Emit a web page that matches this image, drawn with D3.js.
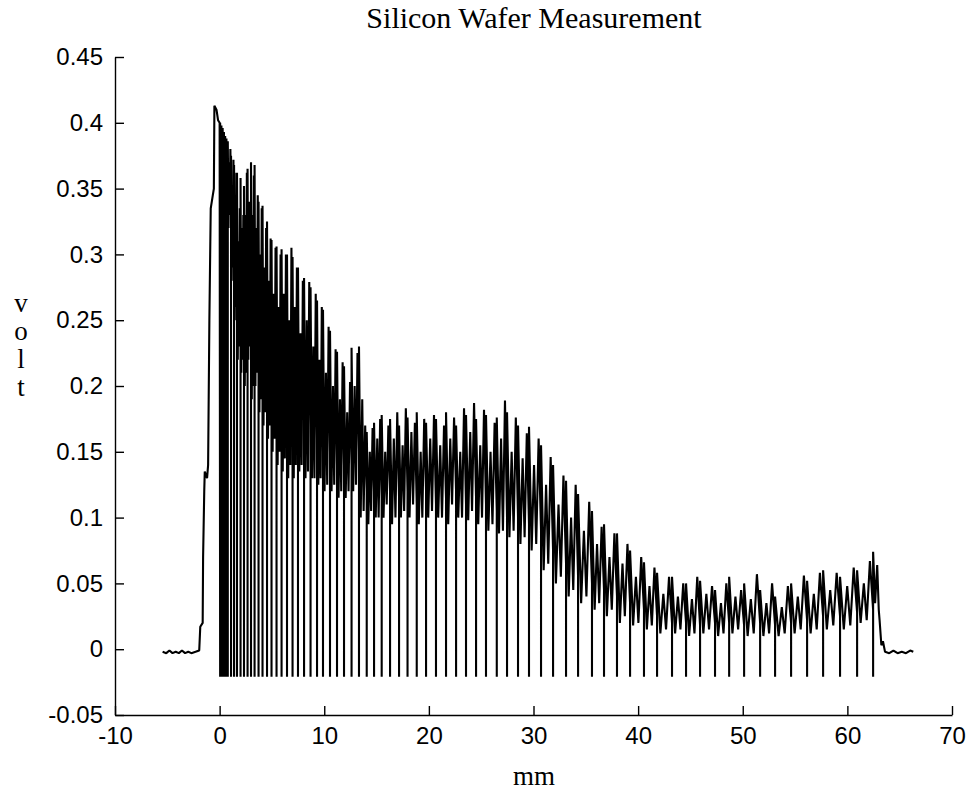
<!DOCTYPE html>
<html>
<head>
<meta charset="utf-8">
<script src="https://cdn.jsdelivr.net/npm/d3@7"></script>
<style>
  html, body { margin: 0; padding: 0; background: #fff; }
  svg { display: block; }
  .tick text { font-family: "Liberation Sans", Arial, sans-serif; font-size: 24px; fill: #000; }
  .serif { font-family: "Liberation Serif", "Times New Roman", serif; fill: #000; }
</style>
</head>
<body>
<svg id="chart" width="968" height="800"></svg>
<script>
// Axis ticks
const xTickValues = [-10, 0, 10, 20, 30, 40, 50, 60, 70];
const yTickValues = [-0.05, 0, 0.05, 0.1, 0.15, 0.2, 0.25, 0.3, 0.35, 0.4, 0.45];

// Scan before the wafer edge: baseline then the rising edge [mm, volt]
const leadIn = [
  [-5.45, -0.002], [-5.1, -0.003], [-4.8, -0.001], [-4.5, -0.003], [-4.2, -0.002],
  [-3.9, -0.003], [-3.6, -0.001], [-3.3, -0.003], [-3.0, -0.002], [-2.7, -0.003],
  [-2.3, -0.002], [-1.95, -0.001], [-1.85, 0.017], [-1.62, 0.02], [-1.58, 0.07],
  [-1.47, 0.12], [-1.42, 0.135], [-1.2, 0.13], [-1.1, 0.14], [-0.98, 0.25],
  [-0.85, 0.335], [-0.65, 0.345], [-0.55, 0.35], [-0.5, 0.413], [-0.3, 0.41],
  [-0.15, 0.402], [0.0, 0.40]
];

// Positions (mm) where the signal drops to the negative spike
const dipPositions = [
  0.05, 0.17, 0.29, 0.41, 0.53, 0.65, 0.78, 1.09, 1.38, 1.66,
  2.00, 2.33, 2.67, 3.00, 3.34, 3.72, 4.10, 4.53, 4.96, 5.44,
  5.92, 6.44, 6.97, 7.49, 8.07, 8.69, 9.31, 9.88, 10.55, 11.22,
  11.89, 12.61, 13.32, 14.06, 14.76, 15.49, 16.29, 17.15, 17.96, 18.84,
  19.73, 20.68, 21.64, 22.60, 23.55, 24.51, 25.46, 26.49, 27.47, 28.52,
  29.57, 30.72, 31.87, 33.11, 34.26, 35.59, 36.74, 37.98, 39.23, 40.56,
  41.81, 43.24, 44.58, 45.92, 47.35, 48.70, 50.13, 51.66, 53.09, 54.62,
  56.15, 57.68, 59.30, 60.93, 62.46
];
const dipLevel = -0.021;

// Signal between consecutive spikes, in order across each interval:
// rise peak, floor, middle peak, second floor, late peak, level before next spike
const segPeakA = [
  0.400, 0.398, 0.396, 0.393, 0.390, 0.388, 0.386, 0.375, 0.368, 0.362,
  0.358, 0.352, 0.365, 0.370, 0.368, 0.340, 0.337, 0.325, 0.311, 0.306,
  0.304, 0.300, 0.298, 0.290, 0.282, 0.275, 0.265, 0.258, 0.242, 0.226,
  0.215, 0.229, 0.230, 0.165, 0.172, 0.178, 0.175, 0.170, 0.176, 0.180,
  0.172, 0.175, 0.180, 0.170, 0.178, 0.175, 0.178, 0.176, 0.180, 0.170,
  0.169, 0.155, 0.140, 0.128, 0.118, 0.105, 0.095, 0.088, 0.075, 0.066,
  0.058, 0.055, 0.050, 0.052, 0.045, 0.055, 0.050, 0.045, 0.040, 0.050,
  0.052, 0.060, 0.055, 0.060
];
const segFloor = [
  0.385, 0.380, 0.375, 0.370, 0.360, 0.350, 0.320, 0.280, 0.250, 0.220,
  0.210, 0.200, 0.220, 0.190, 0.200, 0.180, 0.170, 0.160, 0.150, 0.140,
  0.135, 0.130, 0.130, 0.135, 0.130, 0.130, 0.125, 0.120, 0.120, 0.115,
  0.115, 0.120, 0.100, 0.095, 0.100, 0.100, 0.095, 0.100, 0.100, 0.095,
  0.100, 0.100, 0.095, 0.100, 0.098, 0.095, 0.090, 0.088, 0.085, 0.080,
  0.075, 0.060, 0.050, 0.040, 0.035, 0.030, 0.025, 0.020, 0.018, 0.015,
  0.012, 0.012, 0.010, 0.012, 0.010, 0.012, 0.010, 0.010, 0.010, 0.012,
  0.012, 0.015, 0.015, 0.020
];
const segMid = [
  0.390, 0.390, 0.385, 0.383, 0.380, 0.378, 0.370, 0.340, 0.330, 0.310,
  0.320, 0.330, 0.340, 0.330, 0.320, 0.300, 0.290, 0.280, 0.270, 0.260,
  0.270, 0.250, 0.260, 0.240, 0.250, 0.230, 0.220, 0.210, 0.200, 0.190,
  0.180, 0.200, 0.190, 0.150, 0.160, 0.150, 0.160, 0.155, 0.165, 0.150,
  0.160, 0.155, 0.160, 0.150, 0.165, 0.155, 0.150, 0.160, 0.150, 0.145,
  0.140, 0.125, 0.110, 0.100, 0.090, 0.080, 0.070, 0.065, 0.055, 0.048,
  0.042, 0.040, 0.038, 0.042, 0.035, 0.040, 0.038, 0.035, 0.032, 0.040,
  0.042, 0.045, 0.048, 0.050
];
const segFloor2 = [
  0.380, 0.375, 0.370, 0.365, 0.355, 0.345, 0.330, 0.290, 0.260, 0.230,
  0.220, 0.210, 0.230, 0.200, 0.210, 0.190, 0.180, 0.170, 0.160, 0.150,
  0.145, 0.140, 0.140, 0.140, 0.135, 0.130, 0.130, 0.125, 0.125, 0.120,
  0.120, 0.125, 0.105, 0.105, 0.100, 0.110, 0.100, 0.105, 0.110, 0.100,
  0.105, 0.100, 0.110, 0.100, 0.105, 0.100, 0.095, 0.090, 0.090, 0.085,
  0.080, 0.065, 0.055, 0.045, 0.040, 0.035, 0.030, 0.025, 0.020, 0.018,
  0.015, 0.015, 0.012, 0.015, 0.012, 0.015, 0.012, 0.012, 0.012, 0.015,
  0.015, 0.018, 0.018, 0.022
];
const segPeakB = [
  0.398, 0.395, 0.392, 0.390, 0.388, 0.386, 0.380, 0.372, 0.362, 0.335,
  0.330, 0.362, 0.335, 0.360, 0.345, 0.335, 0.320, 0.312, 0.305, 0.300,
  0.300, 0.305, 0.290, 0.280, 0.279, 0.270, 0.260, 0.245, 0.228, 0.218,
  0.203, 0.225, 0.170, 0.168, 0.175, 0.170, 0.180, 0.183, 0.172, 0.175,
  0.178, 0.170, 0.176, 0.183, 0.187, 0.182, 0.172, 0.189, 0.176, 0.164,
  0.160, 0.146, 0.132, 0.125, 0.112, 0.093, 0.088, 0.080, 0.070, 0.062,
  0.055, 0.050, 0.055, 0.048, 0.050, 0.045, 0.057, 0.050, 0.048, 0.056,
  0.058, 0.058, 0.062, 0.067
];
const segTail = [
  0.390, 0.385, 0.380, 0.375, 0.370, 0.360, 0.340, 0.300, 0.280, 0.270,
  0.300, 0.290, 0.270, 0.280, 0.260, 0.250, 0.220, 0.210, 0.190, 0.200,
  0.180, 0.190, 0.170, 0.180, 0.170, 0.160, 0.150, 0.150, 0.140, 0.140,
  0.140, 0.150, 0.120, 0.120, 0.115, 0.120, 0.115, 0.120, 0.110, 0.120,
  0.110, 0.115, 0.120, 0.110, 0.115, 0.110, 0.105, 0.100, 0.100, 0.095,
  0.090, 0.075, 0.065, 0.055, 0.050, 0.045, 0.040, 0.035, 0.030, 0.025,
  0.020, 0.020, 0.018, 0.020, 0.020, 0.018, 0.020, 0.018, 0.020, 0.022,
  0.025, 0.025, 0.028, 0.030
];

// After the last spike: falling edge and baseline [mm, volt]
const leadOut = [
  [62.46, 0.074], [62.65, 0.035], [62.85, 0.064], [63.0, 0.03], [63.08, 0.022],
  [63.25, 0.003], [63.4, 0.006], [63.6, -0.002], [64.0, -0.003], [64.4, -0.001],
  [64.8, -0.003], [65.2, -0.002], [65.6, -0.003], [66.0, -0.001], [66.3, -0.002]
];

const svg = d3.select("#chart");
const x = d3.scaleLinear().domain([-10, 70]).range([115, 952]);
const y = d3.scaleLinear().domain([-0.05, 0.45]).range([715, 57]);

// Assemble the trace: each interval starts with a vertical rise out of the spike
const segmentSeries = [segPeakA, segFloor, segMid, segFloor2, segPeakB, segTail];
const stops = [0, 0.22, 0.42, 0.6, 0.8, 1];
const trace = leadIn.slice();
for (let i = 0; i < dipPositions.length - 1; i++) {
  const x0 = dipPositions[i], x1 = dipPositions[i + 1], w = x1 - x0;
  trace.push([x0, dipLevel]);
  segmentSeries.forEach((arr, k) => trace.push([x0 + stops[k] * w, arr[i]]));
}
trace.push([dipPositions[dipPositions.length - 1], dipLevel]);
leadOut.forEach(p => trace.push(p));

const line = d3.line().x(d => x(d[0])).y(d => y(d[1]));
svg.append("path")
  .datum(trace)
  .attr("d", line)
  .attr("fill", "none")
  .attr("stroke", "#000")
  .attr("stroke-width", 2.1)
  .attr("stroke-linejoin", "bevel");

const fmt = v => String(v);

const xAxis = svg.append("g")
  .attr("transform", `translate(0,${y(-0.05)})`)
  .call(d3.axisBottom(x).tickValues(xTickValues).tickFormat(fmt)
    .tickSizeInner(-9).tickSizeOuter(0).tickPadding(12));
const yAxis = svg.append("g")
  .attr("transform", `translate(${x(-10)},0)`)
  .call(d3.axisLeft(y).tickValues(yTickValues).tickFormat(fmt)
    .tickSizeInner(-9).tickSizeOuter(0).tickPadding(12));
[xAxis, yAxis].forEach(g => {
  g.select(".domain").attr("stroke", "#000").attr("stroke-width", 1.4);
  g.selectAll(".tick line").attr("stroke", "#000").attr("stroke-width", 1.4);
});

// Title and axis labels
svg.append("text").attr("class", "serif")
  .attr("x", 534).attr("y", 28).attr("text-anchor", "middle")
  .attr("font-size", 30).text("Silicon Wafer Measurement");
svg.append("text").attr("class", "serif")
  .attr("x", 534).attr("y", 785).attr("text-anchor", "middle")
  .attr("font-size", 27).text("mm");
const yLabel = svg.append("text").attr("class", "serif")
  .attr("font-size", 27).attr("text-anchor", "middle");
["v", "o", "l", "t"].forEach((ch, i) => {
  yLabel.append("tspan").attr("x", 21).attr("y", 312 + i * 28).text(ch);
});
</script>
</body>
</html>
